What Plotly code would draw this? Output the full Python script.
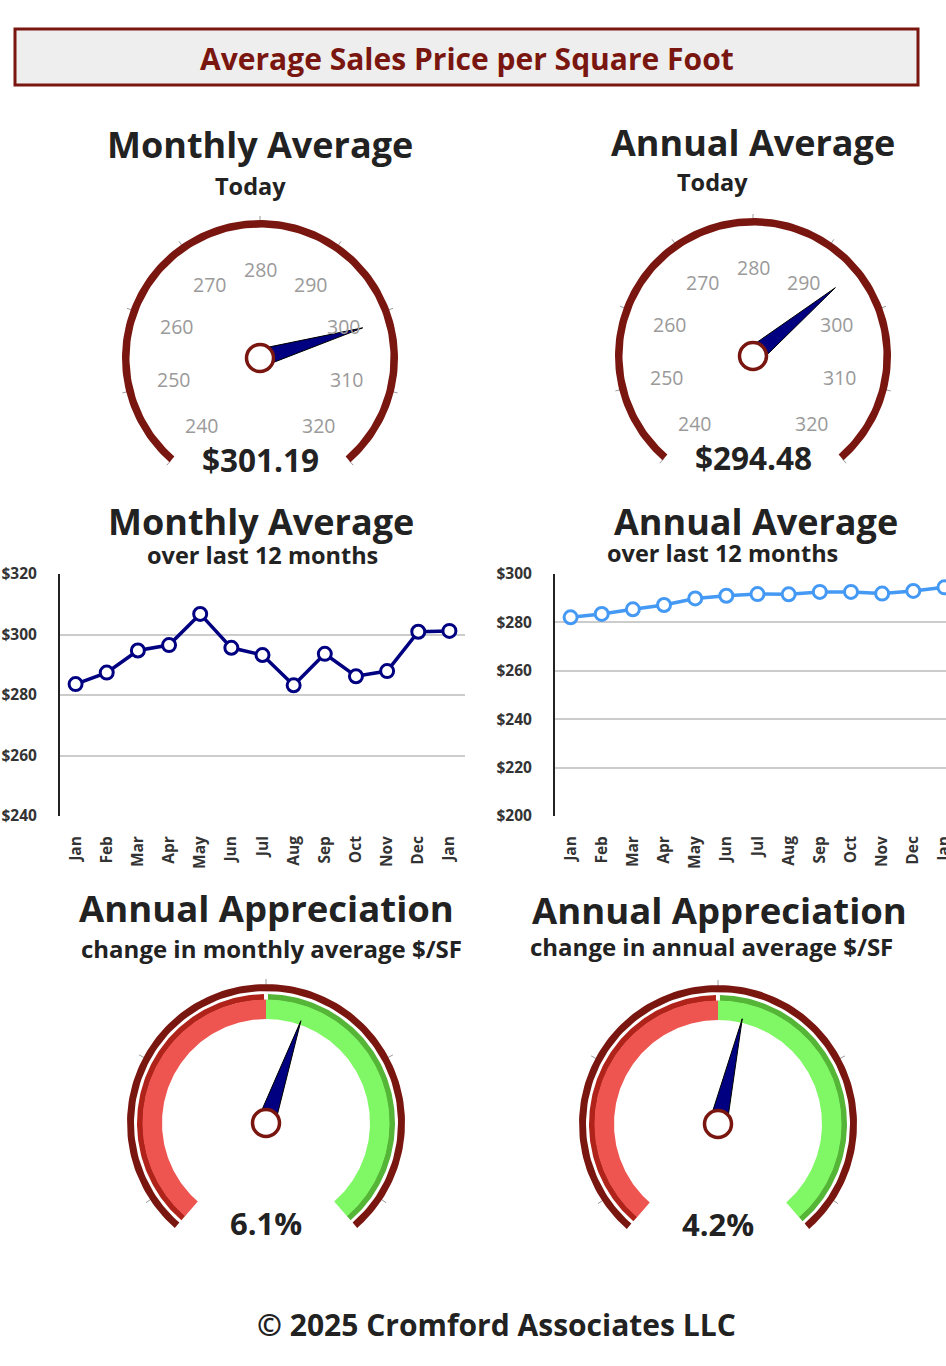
import numpy as np
import plotly.graph_objects as go

# ---------------- data ----------------
months = ["Jan", "Feb", "Mar", "Apr", "May", "Jun", "Jul", "Aug", "Sep", "Oct", "Nov", "Dec", "Jan"]
monthly_avg = [283.6, 287.4, 294.7, 296.5, 306.8, 295.6, 293.2, 283.2, 293.6, 286.2, 287.9, 300.9, 301.19]
annual_avg = [282.1, 283.5, 285.4, 287.2, 289.9, 291.0, 291.7, 291.6, 292.6, 292.6, 291.9, 293.0, 294.48]

monthly_today = 301.19
annual_today = 294.48
price_ticks = [240, 250, 260, 270, 280, 290, 300, 310, 320]

monthly_appreciation = 6.1
annual_appreciation = 4.2
appr_min, appr_max = -45, 45
appr_ticks = [-40, -20, 0, 20, 40]

# ---------------- style ----------------
W, H = 946, 1366
DARK_RED = "#7A1610"
NAVY = "#000080"
FONT = "Open Sans"
A0, SWEEP = 229.0, 278.0

fig = go.Figure()
annotations = []
shapes = []

PIX = dict(xaxis="x3", yaxis="y3", hoverinfo="skip", showlegend=False)


def ang(v, lo, hi):
    return np.radians(A0 - (v - lo) / (hi - lo) * SWEEP)


def pt(cx, cy, r, a):
    return cx + r * np.cos(a), cy - r * np.sin(a)


def annulus(cx, cy, r0, r1, a0, a1, color, n=160):
    t = np.linspace(a0, a1, n)
    xo, yo = pt(cx, cy, r1, t)
    xi, yi = pt(cx, cy, r0, t[::-1])
    xs = np.concatenate([xo, xi, xo[:1]])
    ys = np.concatenate([yo, yi, yo[:1]])
    fig.add_trace(go.Scatter(x=xs, y=ys, mode="lines", fill="toself", fillcolor=color,
                             line=dict(width=0, color=color), **PIX))


def ticks(cx, cy, vals, lo, hi, r0, r1):
    xs, ys = [], []
    for v in vals:
        a = ang(v, lo, hi)
        x0, y0 = pt(cx, cy, r0, a)
        x1, y1 = pt(cx, cy, r1, a)
        xs += [x0, x1, None]
        ys += [y0, y1, None]
    fig.add_trace(go.Scatter(x=xs, y=ys, mode="lines", line=dict(width=1, color="#9a9a9a"), **PIX))


def needle(cx, cy, v, lo, hi, r_tip=107, half=9):
    a = ang(v, lo, hi)
    tx, ty = pt(cx, cy, r_tip, a)
    bx1, by1 = pt(cx, cy, half, a + np.pi / 2)
    bx2, by2 = pt(cx, cy, half, a - np.pi / 2)
    fig.add_trace(go.Scatter(x=[tx, bx1, bx2, tx], y=[ty, by1, by2, ty], mode="lines", fill="toself",
                             fillcolor=NAVY, line=dict(width=1, color="black"), **PIX))
    fig.add_trace(go.Scatter(x=[cx], y=[cy], mode="markers",
                             marker=dict(size=27, color="white", line=dict(width=3.5, color=DARK_RED)), **PIX))


def text(x, y, s, size, color="#222222", bold=True):
    annotations.append(dict(x=x, y=y, xref="x3", yref="y3", text=s, showarrow=False,
                            xanchor="center", yanchor="middle",
                            font=dict(family=FONT, size=size, color=color, weight=700 if bold else 400)))


def price_gauge(cx, cy, value):
    lo, hi = price_ticks[0], price_ticks[-1]
    ticks(cx, cy, price_ticks, lo, hi, 136, 142)
    annulus(cx, cy, 130.5, 138, ang(lo, lo, hi), ang(hi, lo, hi), DARK_RED)
    for v in price_ticks:
        x, y = pt(cx, cy, 89, ang(v, lo, hi))
        text(x, y, str(v), 19.5, "#9a9a9a", bold=False)
    needle(cx, cy, value, lo, hi)
    text(cx, cy + 101, "${:.2f}".format(value), 31.5)


def appr_gauge(cx, cy, value):
    lo, hi = appr_min, appr_max
    ticks(cx, cy, appr_ticks, lo, hi, 138, 144)
    annulus(cx, cy, 132, 139, ang(lo, lo, hi), ang(hi, lo, hi), DARK_RED)
    a_mid = ang(0, lo, hi)
    gap = np.radians(0.9)
    annulus(cx, cy, 123, 129, ang(lo, lo, hi), a_mid + gap, "#B0231B")
    annulus(cx, cy, 123, 129, a_mid - gap, ang(hi, lo, hi), "#55B537")
    annulus(cx, cy, 104, 123.5, ang(lo, lo, hi), a_mid, "#EE5550")
    annulus(cx, cy, 104, 123.5, a_mid, ang(hi, lo, hi), "#80F765")
    needle(cx, cy, value, lo, hi, r_tip=108)
    text(cx, cy + 100, "{:.1f}%".format(value), 31)


# ---------------- header ----------------
shapes.append(dict(type="rect", xref="x3", yref="y3", x0=15, x1=918, y0=29, y1=85,
                   fillcolor="#EEEEEE", line=dict(color=DARK_RED, width=3), layer="below"))
text(467, 58, "Average Sales Price per Square Foot", 30, DARK_RED)

# ---------------- top gauges ----------------
text(260, 144, "Monthly Average", 36)
text(250, 186, "Today", 23.5)
price_gauge(260, 358, monthly_today)

text(753, 142, "Annual Average", 36)
text(712, 182, "Today", 23.5)
price_gauge(753, 356, annual_today)

# ---------------- line charts ----------------
idx = list(range(len(months)))
fig.add_trace(go.Scatter(x=idx, y=monthly_avg, mode="lines+markers", xaxis="x", yaxis="y",
                         line=dict(color=NAVY, width=3.5),
                         marker=dict(size=13, color="white", line=dict(width=3, color=NAVY)),
                         showlegend=False, hoverinfo="skip", cliponaxis=False))
fig.add_trace(go.Scatter(x=idx, y=annual_avg, mode="lines+markers", xaxis="x2", yaxis="y2",
                         line=dict(color="#4499F5", width=3.5),
                         marker=dict(size=13, color="white", line=dict(width=3, color="#4499F5")),
                         showlegend=False, hoverinfo="skip"))

text(261, 521, "Monthly Average", 36)
text(262, 555, "over last 12 months", 23.5)
text(756, 521, "Annual Average", 36)
text(722, 553, "over last 12 months", 23.5)

# ---------------- bottom gauges ----------------
text(266, 908, "Annual Appreciation", 36.5)
text(271, 948, "change in monthly average $/SF", 24)
appr_gauge(266, 1123, monthly_appreciation)

text(719, 910, "Annual Appreciation", 36.5)
text(711, 946, "change in annual average $/SF", 24)
appr_gauge(718, 1124, annual_appreciation)

# ---------------- footer ----------------
text(496, 1324, "© 2025 Cromford Associates LLC", 30)

tick_font = dict(family=FONT, size=15.5, color="#333333", weight=700)


def yd(top, bottom):
    return [1 - bottom / H, 1 - top / H]


common_x = dict(tickvals=idx, ticktext=months, tickangle=-90, tickfont=tick_font, showgrid=False,
                zeroline=False, showline=False, ticks="", ticklabelstandoff=16, fixedrange=True,
                automargin=False, ticklabeloverflow="allow")
common_y = dict(dtick=20, tickprefix="$", tickfont=tick_font, gridcolor="#CCCCCC", gridwidth=1.5,
                showline=True, linecolor="#222222", linewidth=2, zeroline=False, ticks="",
                ticklabelstandoff=18, fixedrange=True, automargin=False)

fig.update_layout(
    width=W, height=H, autosize=False,
    margin=dict(l=0, r=0, t=0, b=0, pad=0),
    paper_bgcolor="white", plot_bgcolor="rgba(0,0,0,0)",
    xaxis=dict(domain=[60 / W, 465 / W], range=[-0.5, 12.5], anchor="y", **common_x),
    yaxis=dict(domain=yd(574, 816), range=[240, 320], anchor="x", **common_y),
    xaxis2=dict(domain=[555 / W, 1.0], range=[-0.5, 12.05], anchor="y2", **common_x),
    yaxis2=dict(domain=yd(574, 816), range=[200, 300], anchor="x2", **common_y),
    xaxis3=dict(domain=[0, 1], range=[0, W], visible=False, anchor="y3", fixedrange=True,
                automargin=False),
    yaxis3=dict(domain=[0, 1], range=[H, 0], visible=False, anchor="x3", fixedrange=True,
                automargin=False),
    annotations=annotations,
    shapes=shapes,
)

fig.write_html("out.html")
